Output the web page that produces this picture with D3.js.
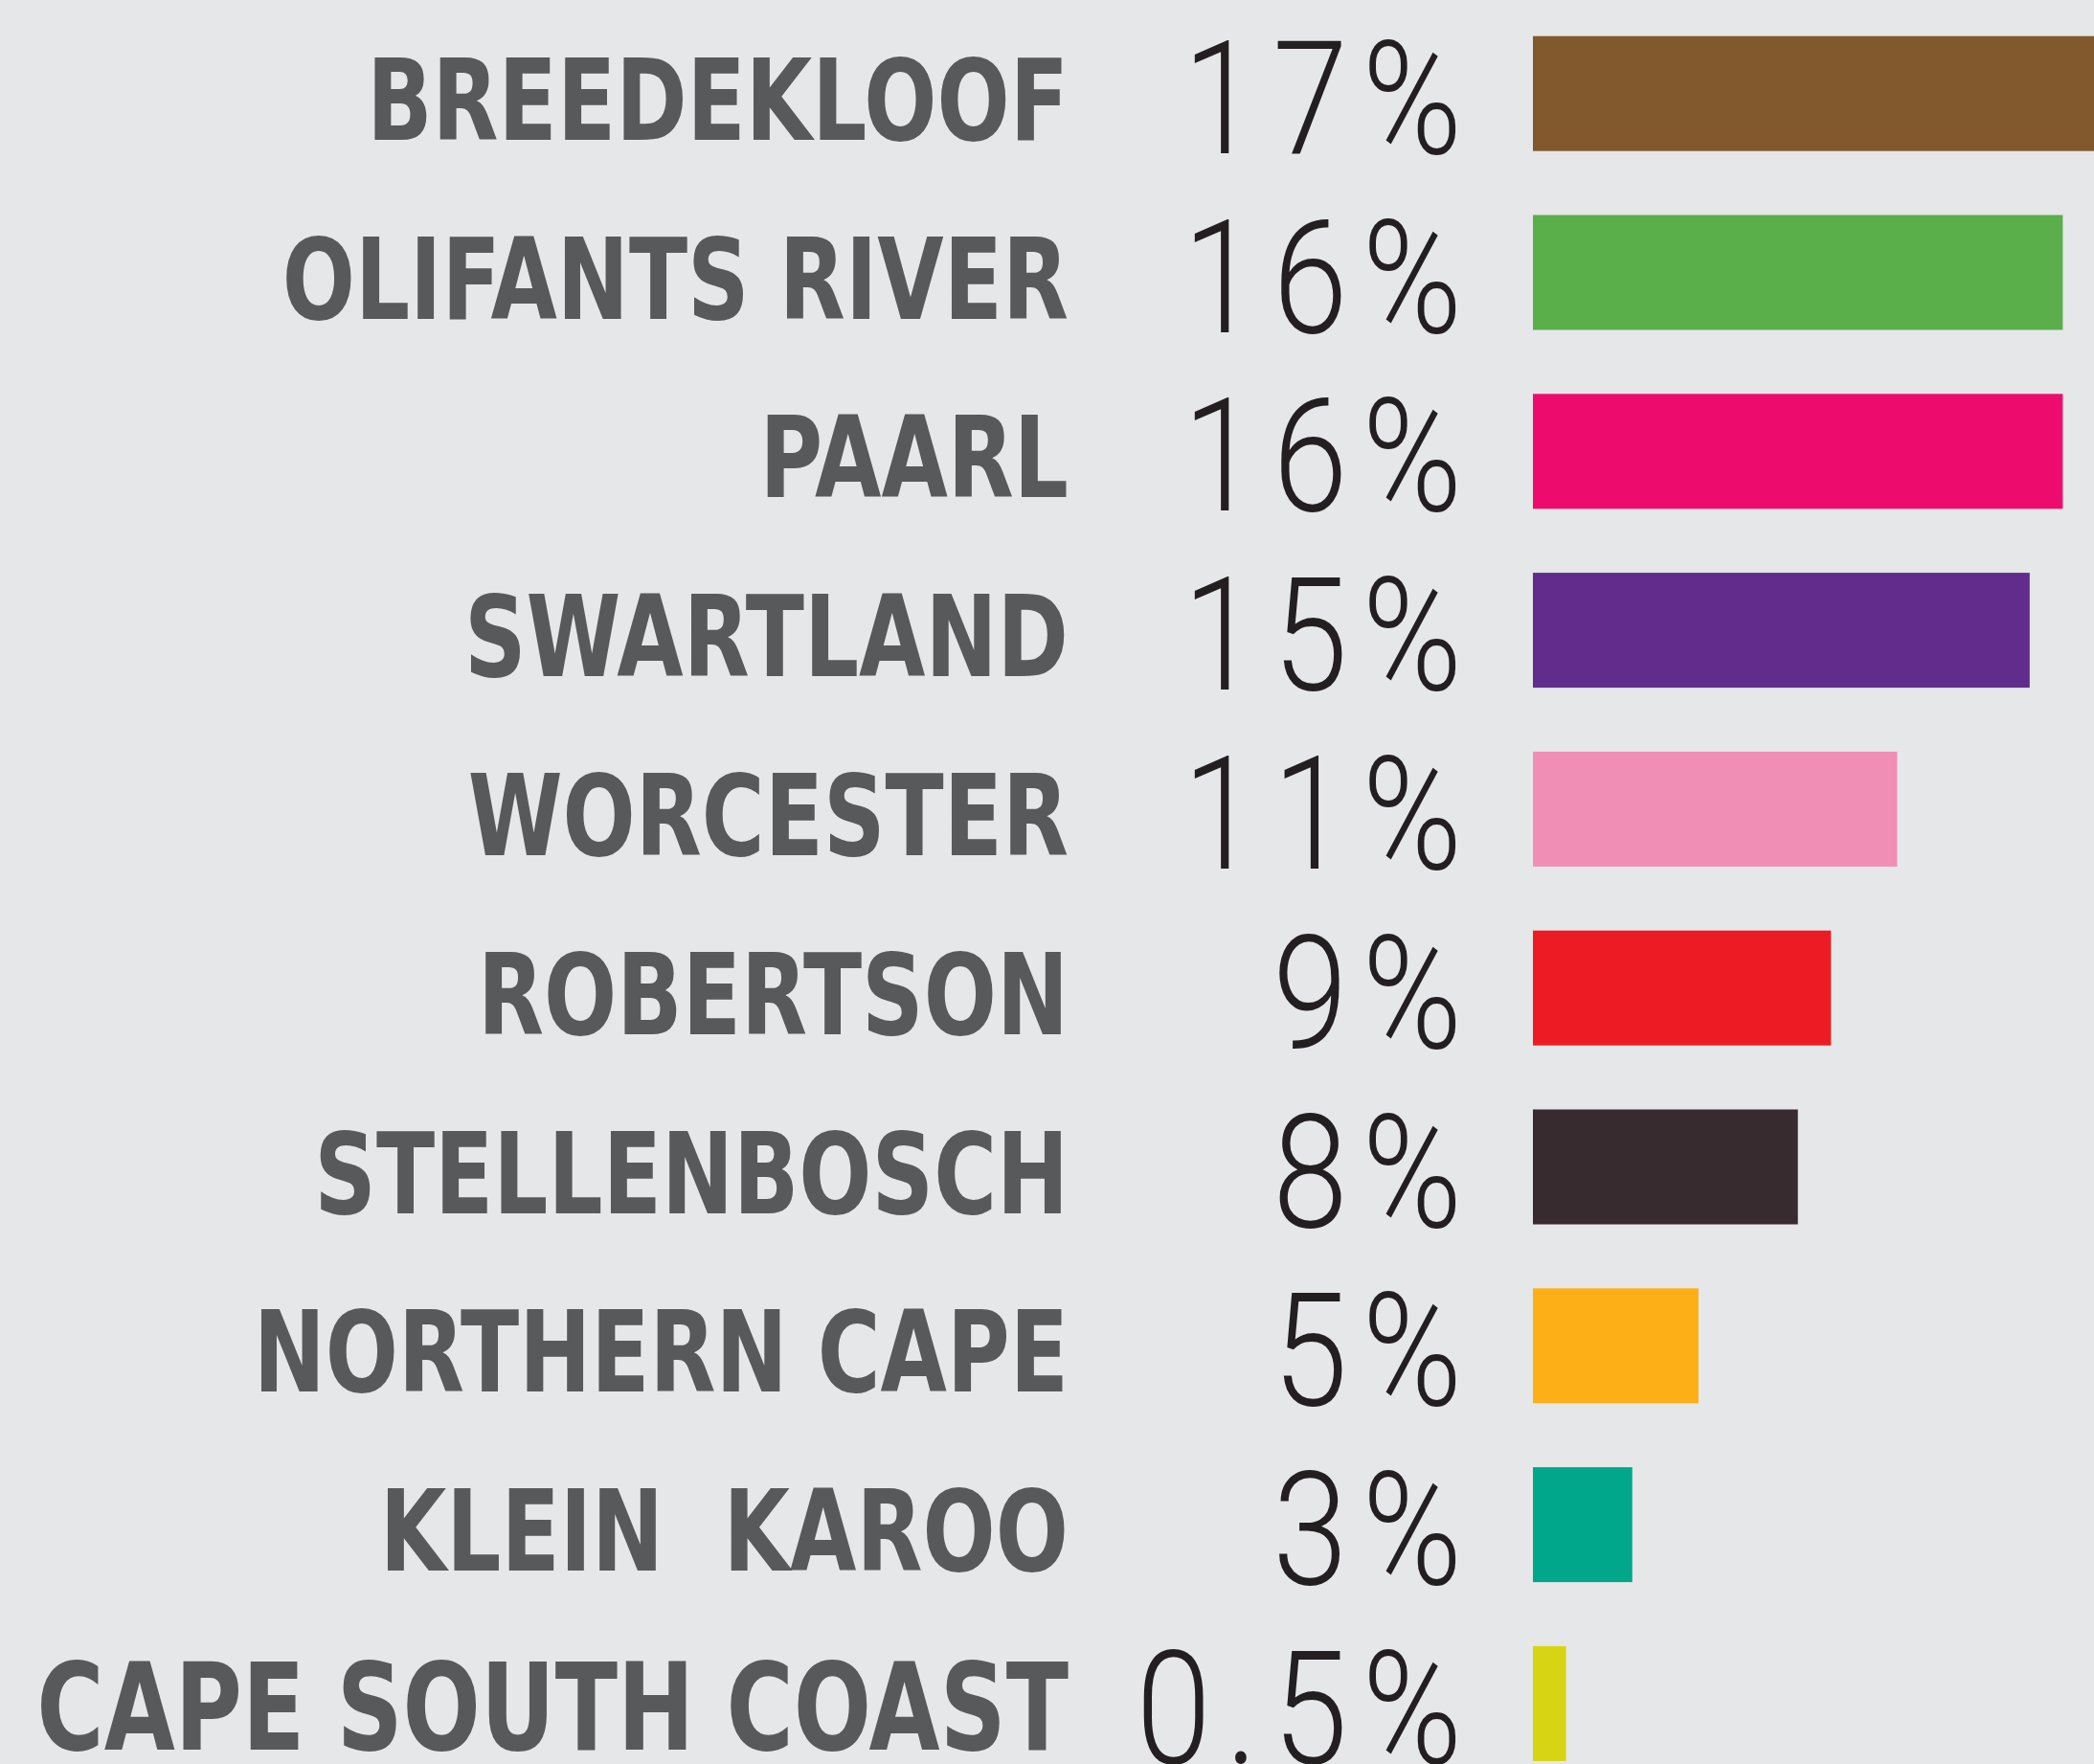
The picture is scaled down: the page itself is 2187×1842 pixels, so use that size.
<!doctype html>
<html>
<head>
  <meta charset="utf-8">
  <title>Share by region</title>
  <script src="https://d3js.org/d3.v7.min.js"></script>
  <style>
    html, body { margin: 0; padding: 0; background: #e6e7e8; }
    svg { display: block; }
    .label { font-family: "DejaVu Sans", "Liberation Sans", Arial, sans-serif; font-weight: bold; fill: #58595b; white-space: pre; }
    .pct { font-family: Roboto, "Liberation Sans", sans-serif; font-weight: 300; fill: #231f20; }
  </style>
</head>
<body>
<div id="chart"></div>
<script>
// data
var regions = ["BREEDEKLOOF", "OLIFANTS RIVER", "PAARL", "SWARTLAND", "WORCESTER",
               "ROBERTSON", "STELLENBOSCH", "NORTHERN CAPE", "KLEIN  KAROO", "CAPE SOUTH COAST"];
var shares = [17, 16, 16, 15, 11, 9, 8, 5, 3, 0.5];
var shareLabels = ["17%", "16%", "16%", "15%", "11%", "9%", "8%", "5%", "3%", "0.5%"];
var colours = ["#82592d", "#5baf4b", "#ed0c6e", "#612c8c", "#f18eb6",
               "#ed1c24", "#372b2f", "#fcaf17", "#00a78a", "#d7d414"];

var width = 2187, height = 1842;
var rowStep = 186.8, barH = 120, top0 = 37.7;

var svg = d3.select("#chart")
  .append("svg")
    .attr("width", width)
    .attr("height", height);

svg.append("rect").attr("width", width).attr("height", height).attr("fill", "#e6e7e8");

// rows
var y = d3.scaleBand()
  .domain(regions)
  .range([top0, top0 + rowStep * (regions.length - 1) + barH])
  .paddingInner((rowStep - barH) / rowStep)
  .paddingOuter(0);

var x = d3.scaleLinear()
  .domain([0, 17])
  .range([1601, 1601 + 588]);

var rows = svg.selectAll(".row")
  .data(regions.map(function(r, i){ return {region: r, value: shares[i], label: shareLabels[i], colour: colours[i], i: i}; }))
  .enter()
  .append("g")
    .attr("class", "row");

// bars (tiny share still gets a visible sliver)
rows.append("rect")
  .attr("x", x(0))
  .attr("y", function(d){ return y(d.region); })
  .attr("height", y.bandwidth())
  .attr("width", function(d){ return Math.max(x(d.value), x(1)) - x(0); })
  .attr("fill", function(d){ return d.colour; });

// region names, condensed heavy look
rows.append("g")
  .attr("transform", function(d){ return "translate(1116," + (y(d.region) + 108) + ") scale(0.76,1)"; })
  .append("text")
    .attr("class", "label")
    .attr("text-anchor", "end")
    .style("font-size", function(d){ return d.i === regions.length - 1 ? "126px" : "118px"; })
    .text(function(d){ return d.region; });

// percentages
rows.append("g")
  .attr("transform", function(d){ return "translate(1527," + (y(d.region) + 122) + ") scale(0.85,1)"; })
  .append("text")
    .attr("class", "pct")
    .attr("text-anchor", "end")
    .attr("dx", 18)
    .style("font-size", "166px")
    .style("letter-spacing", "18px")
    .text(function(d){ return d.label; });
</script>
</body>
</html>
